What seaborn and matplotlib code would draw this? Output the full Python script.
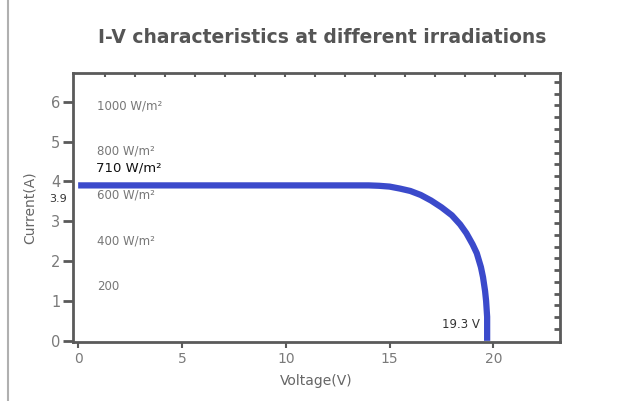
import numpy as np
import pandas as pd
import seaborn as sns
import matplotlib.pyplot as plt
from matplotlib.lines import Line2D

# I-V curve at 710 W/m2
voltage = [0, 4, 8, 12, 14, 14.5, 15, 15.5, 16, 16.5, 17, 17.5, 18, 18.4,
           18.7, 19.0, 19.2, 19.4, 19.5, 19.6, 19.65, 19.7, 19.7]
current = [3.9, 3.9, 3.9, 3.9, 3.9, 3.89, 3.87, 3.82, 3.76, 3.66, 3.52, 3.35,
           3.15, 2.92, 2.7, 2.42, 2.2, 1.85, 1.6, 1.25, 1.0, 0.6, 0.0]

# irradiation labels (text only in the original)
irr_labels = ['1000 W/m²', '800 W/m²', '600 W/m²', '400 W/m²', '200']
irr_y = [5.9, 4.76, 3.67, 2.5, 1.37]

df = pd.DataFrame({'Voltage': voltage, 'Current': current})

sns.set_style('white')
plt.rcParams['font.family'] = ['DejaVu Sans']

fig = plt.figure(figsize=(6.29, 4.01), dpi=100)
ax = fig.add_axes([0.116, 0.147, 0.774, 0.671])

sns.lineplot(data=df, x='Voltage', y='Current', sort=False, estimator=None,
             ax=ax, color='#3b4acb', linewidth=4.5, solid_capstyle='butt')

ax.set_xlim(-0.25, 23.2)
ax.set_ylim(-0.03, 6.72)

grey = '#5a5a5a'
for s in ax.spines.values():
    s.set_color(grey)
    s.set_linewidth(2)

ax.set_xticks([0, 5, 10, 15, 20])
ax.set_yticks([0, 1, 2, 3, 4, 5, 6])
ax.tick_params(axis='x', bottom=True, direction='out', length=4, width=1.5,
               color=grey, labelcolor='#7a7a7a', labelsize=10, pad=3)
ax.tick_params(axis='y', left=True, direction='out', length=7, width=2,
               color=grey, labelcolor='#7a7a7a', labelsize=10.5, pad=2)

# decorative ticks on top and right borders
sec_top = ax.secondary_xaxis('top')
sec_top.set_xticks(np.arange(1.3, 22.6, 1.446))
sec_top.tick_params(top=True, direction='in', length=3, width=1.5, color=grey,
                    labeltop=False)
sec_top.spines['top'].set_visible(False)
sec_r = ax.secondary_yaxis('right')
sec_r.set_yticks(np.arange(0.3, 6.6, 0.295))
sec_r.tick_params(right=True, direction='in', length=4, width=2, color=grey,
                  labelright=False)
sec_r.spines['right'].set_visible(False)

ax.set_xlabel('Voltage(V)', color='#666666', fontsize=10, labelpad=6)
ax.set_ylabel('Current(A)', color='#666666', fontsize=10, labelpad=10)

for lab, y in zip(irr_labels, irr_y):
    ax.text(0.9, y, lab, color='#777777', fontsize=8.5, va='center', ha='left')
ax.text(0.85, 4.33, '710 W/m²', color='#111111', fontsize=9.5, va='center', ha='left')
ax.text(-0.55, 3.57, '3.9', color='#333333', fontsize=8, va='center', ha='right',
        clip_on=False)
ax.text(19.35, 0.42, '19.3 V', color='#333333', fontsize=8.5, va='center', ha='right')

fig.suptitle('I-V characteristics at different irradiations', x=0.512, y=0.93,
             fontsize=13.5, fontweight='bold', color='#555555')

# left frame line of the original screenshot
fig.add_artist(Line2D([0.013, 0.013], [0, 1], transform=fig.transFigure,
                      color='#b0b0b0', linewidth=1.5))

fig.savefig('out.png', dpi=100)
